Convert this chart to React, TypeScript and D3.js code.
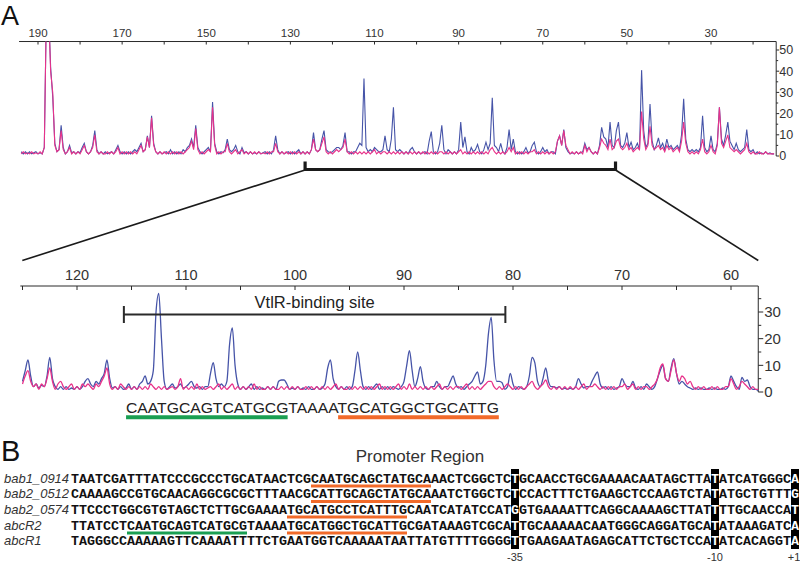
import React from 'react';
import * as d3 from 'd3';

// ---------- Panel A: overview trace (position 194 -> 15, step 0.5) ----------
const overviewStart = 194;
const overviewStep = 0.5;
const overviewBlue = [
  2,1,2,1,2,1,1.5,2,1,1.5,1,4,70,70,42,28,6,2,3,14.5,
  4,1,2,5,1.5,2,1,2,1.5,4,6,2,1,2,5,12,3,1,2,1,
  2,1,1.5,2,1,3,5,2,1,2,1,2,1,2,3,2,4,6,2,3,
  9.5,4,19,6,2,1,2,1,1.5,2,1,3,1,2,1,2,1,3,2,4,
  5,8,4,14.5,4,2,1,2,3,4,2,25.5,6,2,1,2,1.5,3,8,3,
  2,3,5,2,1,4,1.5,2,1,2,1,1.5,1,2,1,1.5,2,1,2,1,
  3,9.5,3,1,2,1,1.5,2,1,2,1,2,3,1,2,1,2,1,3,11,
  3,2,3,8,12,3,2,1.5,2,3,4,4,3,5,11,2,2,1,2,2,
  4,6,5,36.5,4,2,3,2,4,3,2,2,3,9.5,3,2,8,23,3,2,
  3,2,1,2,1,3,4,2,1,2,1,1.5,2,1,7,11.5,2,1,2,6,
  14.5,3,1,3,2,1,2,1,3,16,4,9,2,1,4,2,3,5.5,2,1,
  3,6.5,3,6,27.5,5,4,2,6,2,1,4,12.5,3,8,2,1,2,1,2,
  4,1.5,2,5,6.5,2,1,2,4,2,3,1,2,2,1,7,9.5,5,12.5,4,
  2,1,1.5,1,2,1,1.5,2,6,3,4,2,1,2,1,5,13.5,9,8,4,
  16,5,4,12,16,5,4,6,11,4,6.5,3,4,6,3,40.5,12,4,6,24.5,
  7,3,5,8.5,4,6,3,8,4,5,3,4,5,3,10,27,8,3,2,3,
  2,3,2,4,19,4,2,3,9.5,3,2,6,23,8,5,10,16,7,5,3,
  6,3,2,3,4,12.5,3,2,3,1,2,1,1.5,1,2,1,1.5,1,1,
];
const overviewPink = [
  1,2,1,1.5,1,2,1,1.5,1,2,1,4,70,70,40,30,5,2,3,12,
  3,1,2,4,1,2,1,2,1,3,5,2,1,2,4,10,2,1,2,1,
  1,2,1,2,1,2,4,1,2,1,2,1,2,1,2,1,3,5,2,3,
  9,4,18,5,2,1,2,1,2,1,2,1,2,1,2,1,2,1,2,3,
  4,7,3,13,3,1,2,1,2,3,2,23,5,1,2,1,2,2,6,2,
  1,2,3,1,2,3,1,2,1,2,1,2,1,2,1,1.5,1,2,1,2,
  2,6,2,1,2,1,2,1,2,1,2,1,2,1,2,1,2,1,3,8,
  3,2,3,6,9,2,1,2,1,2,3,2,3,4,8,2,1,2,1,2,
  1,2,1,2,1,2,1,2,3,1,2,1,2,2,1,2,1,2,1,2,
  1,2,1,2,1,2,1,2,1,2,1,2,1,2,1,2,1,2,1,2,
  2,1,2,1,2,1,2,1,2,3,1,2,1,2,1,2,1,2,1,2,
  1,2,1,3,4,2,1,2,1,2,1,2,4,2,4,1,2,1,2,1,
  2,1,2,2,3,1,2,1,2,1,2,1,2,1,2,7,9.5,5,12,5,
  3,1,2,1,2,1,2,1,5,2,4,2,1,2,1,4,8,6,5,3,
  8,3,4,7,8,4,3,4,6,3,4,2,3,4,3,21,8,3,5,14,
  5,3,4,5,3,4,2,5,3,4,2,3,4,2,7,16,6,2,1,2,
  1,2,1,3,8,2,1,2,5,2,1,5,23,6,4,7,10,4,3,2,
  3,2,1,2,3,6,2,1,2,1,1,2,1,1,2,1,1,1,1,
];

// ---------- Panel A: zoomed trace (position 125 -> 57.5, step 0.25) ----------
const zoomStart = 125;
const zoomStep = 0.25;
const zoomBlue = [
  4,8,12,6,2,3,1.5,2.5,2,6,13,5,2,1,2,1,2,1,1.5,1,
  2,1,2,4,5,3,2,4,3,5,7,12,5,1.5,2,1,2,1,1.5,3,
  1,2,1,3,4,6,3,4,8,30,37,20,4,1,2,3,1.5,2,3,1.5,
  2,3,4,2,1.5,2,1,2,2,7,11,5,2,3,2,4,18,24,10,3,
  1,2,1,2,3,1,2,1,1.5,1,2,1,2,1,4,4.5,4.5,3,1,1.5,
  1,2,1,1.5,1,2,1,1,2,1,1.5,3,9,12,5,2,1,2,1,2,
  1,2,8,15,8,2,1,2,1,2,3,1,2,1,2,1,2,1.5,1,2,
  4,10,15.5,8,2,5,9.5,4,1.5,1,2,2,4,2,1,2,2,4,6,3,
  1.5,2,1,2,3,4,6,7.5,3,4,10,22,28,12,4,4,3.5,1,2,7,
  3,1,2,1.5,1,2,6,13,11,4,2,5,9,4,2,2,1.5,2,1,1.5,
  1,1.5,1,2,5,3,1.5,2,2,4,6,7.5,3,1.5,2,1,2,1,1.5,2,
  5,3,2,2,4,1.5,1,2,1,3,2,1,2,5,8,10,5,4,9,12.5,
  7,3,4,3,2,1.5,1,1.5,1,1.5,1,1,1.5,1,1.5,1,1,1.5,1,2,
  6,4,2,1,5.5,4,4.5,2,1,1,0.5,
];
const zoomPink = [
  3,6,8,4,2,3,1,3,2,5,9,4,1,3,4,2,1,2,3,1,
  2,1,3,2,3,2,1,3,2,4,6,9,3,1,2,1,3,2,1,2,
  1,2,1,2,1,2,1,3,2,1,2,1,2,1,1.5,2,1,2,5,1,
  2,1,2,1,3,1,2,1,1.5,2,1,2,3,1,2,1,2,3,1,2,
  1,2,1,2,1,3,1,2,1,1,2,1,2,1,1,2,1,2,1,2,
  1,2,1,1,2,1,2,1,2,1,2,1,2,1,2,3,1,2,1,1,
  2,1,2,1,2,1,2,1,2,1,2,3,1,2,1,2,1,2,3,1,
  2,1,3,1,2,1,2,1,2,1,2,1,2,3,1,2,1,2,1,2,
  2,1,2,3,1,2,1,2,1,2,3,4,4,2,1,2,1,2,3,2,
  1,2,1,2,1,2,3,4,2,1,2,3,4.5,2,1,2,1,2,1,2,
  1,2,1,2,1,2,3,1,2,2,3,2,1,2,1,2,1,2,1,2,
  2,3,1,2,3,1,2,1,2,2,1,2,3,5,9,10.5,5,4,8,12,
  7,4,6,5,3,4,2,1,2,1,2,1,1,2,1,2,1,1,2,2,
  5,3,1,2,4,3,2,1,2,1,1,
];

// axes
const overviewXTicks = [190,180,170,160,150,140,130,120,110,100,90,80,70,60,50,40,30,20];
const overviewXLabels = [190,170,150,130,110,90,70,50,30];
const overviewYTicks = [0,5,10,15,20,25,30,35,40,45,50];
const overviewYLabels = [0,10,20,30,40,50];
const zoomXTicks = [125,120,115,110,105,100,95,90,85,80,75,70,65,60];
const zoomXLabels = [120,110,100,90,80,70,60];
const zoomYTicks = [0,5,10,15,20,25,30,35];
const zoomYLabels = [0,10,20,30];

const overviewBracket = [126.5, 52.7];
const bindingSite = [115.7, 80.7];
const bindingSeq = 'CAATGCAGTCATGCGTAAAATGCATGGCTGCATTG';
const bindingSeqSpan = [115.5, 81.3];
const bindingGreen = [0, 15];
const bindingOrange = [20, 35];

// ---------- Panel B ----------
const geneNames = ['bab1_0914', 'bab2_0512', 'bab2_0574', 'abcR2', 'abcR1'];
const promoterSeqs = [
  'TAATCGATTTATCCCGCCCTGCATAACTCGCAATGCAGCTATGCAAACTCGGCTCTGCAACCTGCGAAAACAATAGCTTATATCATGGGCA',
  'CAAAAGCCGTGCAACAGGCGCGCTTTAACGCATTGCAGCTATGCAAATCTGGCTCTCCACTTTCTGAAGCTCCAAGTCTATATGCTGTTTG',
  'TTCCCTGGCGTGTAGCTCTTGCGAAAATGCATGCCTCATTTGCAATCATATCCATGGTGAAAATTCAGGCAAAAGCTTATTTTGCAACCAT',
  'TTATCCTCAATGCAGTCATGCGTAAAATGCATGGCTGCATTGCGATAAAGTCGCATTGCAAAAACAATGGGCAGGATGCATATAAAGATCA',
  'TAGGGCCAAAAAGTTCAAAATTTTCTGAATGGTCAAAAATAATTATGTTTTGGGGTTGAAGAATAGAGCATTCTGCTCCATATCACAGGTA',
];
const orangeSpans: (number[] | null)[] = [[31, 45], [31, 45], [28, 42], [28, 42], null];
const greenSpans: (number[] | null)[] = [null, null, null, [8, 22], null];
const markerCols = [56, 81, 91];
const markerLabels = ['-35', '-10', '+1'];

const BLUE = '#4654a8';
const PINK = '#e8328a';
const GREEN = '#1a9f52';
const ORANGE = '#f26a2a';
const DARK = '#2a2a2a';
const SANS = '"Liberation Sans", Arial, sans-serif';
const MONO = '"Liberation Mono", "Courier New", monospace';
const charW: Record<string, number> = { A: 0.667, C: 0.722, G: 0.778, T: 0.611 };

function segments(s: string) {
  const out: { text: string; hi: boolean }[] = [];
  let prev = 0;
  markerCols.forEach(c => {
    if (c - 1 > prev) out.push({ text: s.slice(prev, c - 1), hi: false });
    out.push({ text: s[c - 1], hi: true });
    prev = c;
  });
  if (prev < s.length) out.push({ text: s.slice(prev), hi: false });
  return out;
}

export default function App() {
  const xTop = d3.scaleLinear().domain([190, 30]).range([38, 711]);
  const yTop = d3.scaleLinear().domain([0, 50]).range([156, 50]);
  const xZoom = d3.scaleLinear().domain([120, 60]).range([77, 731]);
  const yZoom = d3.scaleLinear().domain([0, 30]).range([392, 312]);
  const topX0 = xTop(194.5), topX1 = xTop(14.5), topY = yTop(54);
  const zX0 = xZoom(125.2), zX1 = xZoom(57.5), zY = yZoom(39.75);

  const pts = (arr: number[], start: number, step: number) =>
    arr.map((v, i) => [start - step * i, v] as [number, number]);
  const topLine = d3.line<[number, number]>().x(d => xTop(d[0])).y(d => yTop(d[1]));
  const zLine = d3.line<[number, number]>().x(d => xZoom(d[0])).y(d => yZoom(d[1])).curve(d3.curveMonotoneX);

  const seqX0 = xZoom(bindingSeqSpan[0]);
  const seqX1 = xZoom(bindingSeqSpan[1]);
  const cum = [0];
  for (const ch of bindingSeq) cum.push(cum[cum.length - 1] + charW[ch]);
  const total = cum[cum.length - 1];
  const seqPos = (i: number) => seqX0 + (cum[i] / total) * (seqX1 - seqX0);

  const mono0 = 71, monoW = 8;
  const rowBase = [482.5, 498, 513.5, 529.5, 545];

  return (
    <svg width={800} height={562} style={{ position: 'absolute', left: 0, top: 0, background: '#fff' }}
      fontFamily={SANS}>
      <defs>
        <clipPath id="clipTop"><rect x={0} y={topY} width={800} height={160} /></clipPath>
        <clipPath id="clipZoom"><rect x={0} y={zY} width={800} height={140} /></clipPath>
      </defs>
      <rect width={800} height={562} fill="#fff" />
      <text x={1} y={25} fontSize={27} fill="#111">A</text>

      {/* overview axes */}
      <line x1={topX0} x2={topX1} y1={topY} y2={topY} stroke={DARK} strokeWidth={1} />
      {overviewXTicks.map(t => (
        <line key={t} x1={xTop(t)} x2={xTop(t)} y1={topY} y2={topY + 3} stroke={DARK} />
      ))}
      {overviewXLabels.map(t => (
        <text key={t} x={xTop(t)} y={37} fontSize={11.5} textAnchor="middle" fill="#333">{t}</text>
      ))}
      <line x1={topX1} x2={topX1} y1={topY} y2={yTop(0)} stroke={DARK} />
      {overviewYTicks.map(t => (
        <line key={t} x1={topX1} x2={topX1 + (t % 10 === 0 ? 3 : 2)} y1={yTop(t)} y2={yTop(t)} stroke={DARK} />
      ))}
      {overviewYLabels.map(t => (
        <text key={t} x={topX1 + 3} y={yTop(t)} dy="0.35em" fontSize={12.5} fill="#333">{t}</text>
      ))}
      <g clipPath="url(#clipTop)" fill="none" strokeWidth={1.1}>
        <path d={topLine(pts(overviewBlue, overviewStart, overviewStep)) || ''} stroke={BLUE} />
        <path d={topLine(pts(overviewPink, overviewStart, overviewStep)) || ''} stroke={PINK} />
      </g>

      {/* bracket + connectors */}
      <path d={`M${xTop(overviewBracket[0])},161.5V169.5H${xTop(overviewBracket[1])}V161.5`}
        fill="none" stroke="#1a1a1a" strokeWidth={3.2} />
      <line x1={xTop(overviewBracket[0])} y1={170} x2={zX0 + 2} y2={260.5} stroke="#1a1a1a" strokeWidth={1.6} />
      <line x1={xTop(overviewBracket[1])} y1={170} x2={zX1} y2={260.5} stroke="#1a1a1a" strokeWidth={1.6} />

      {/* zoom axes */}
      <line x1={zX0} x2={zX1} y1={zY} y2={zY} stroke={DARK} />
      {zoomXTicks.map(t => (
        <line key={t} x1={xZoom(t)} x2={xZoom(t)} y1={zY} y2={zY + 4} stroke={DARK} />
      ))}
      {zoomXLabels.map(t => (
        <text key={t} x={xZoom(t)} y={280} fontSize={14.5} textAnchor="middle" fill="#333">{t}</text>
      ))}
      <line x1={zX1} x2={zX1} y1={zY} y2={yZoom(0)} stroke={DARK} />
      {zoomYTicks.map(t => (
        <line key={t} x1={zX1} x2={zX1 + (t % 10 === 0 ? 5 : 3)} y1={yZoom(t)} y2={yZoom(t)} stroke={DARK} />
      ))}
      {zoomYLabels.map(t => (
        <text key={t} x={zX1 + 6} y={yZoom(t)} dy="0.36em" fontSize={15} fill="#333">{t}</text>
      ))}
      <g clipPath="url(#clipZoom)" fill="none" strokeWidth={1.3}>
        <path d={zLine(pts(zoomBlue, zoomStart, zoomStep)) || ''} stroke={BLUE} />
        <path d={zLine(pts(zoomPink, zoomStart, zoomStep)) || ''} stroke={PINK} />
      </g>

      {/* VtlR binding site */}
      <path d={`M${xZoom(bindingSite[0])},306V323M${xZoom(bindingSite[0])},314.5H${xZoom(bindingSite[1])}M${xZoom(bindingSite[1])},306V323`}
        fill="none" stroke={DARK} strokeWidth={2} />
      <text x={(xZoom(bindingSite[0]) + xZoom(bindingSite[1])) / 2} y={308} fontSize={16.5}
        textAnchor="middle" fill="#222">VtlR-binding site</text>
      <text x={seqX0} y={413.3} fontSize={15.4} fill="#222" textLength={seqX1 - seqX0}
        lengthAdjust="spacingAndGlyphs">{bindingSeq}</text>
      <line x1={seqPos(bindingGreen[0])} x2={seqPos(bindingGreen[1])} y1={417.2} y2={417.2} stroke={GREEN} strokeWidth={4} />
      <line x1={seqPos(bindingOrange[0])} x2={seqPos(bindingOrange[1])} y1={417.2} y2={417.2} stroke={ORANGE} strokeWidth={4} />

      {/* Panel B */}
      <text x={1} y={461} fontSize={29} fill="#111">B</text>
      <text x={420} y={462} fontSize={17} textAnchor="middle" fill="#333">Promoter Region</text>
      {geneNames.map((g, r) => (
        <text key={g} x={4} y={rowBase[r]} fontSize={13} fontStyle="italic" fill="#333">{g}</text>
      ))}
      {markerCols.map(c => (
        <rect key={'r' + c} x={mono0 + (c - 1) * monoW} y={469} width={monoW} height={80} fill="#000" />
      ))}
      {promoterSeqs.map((s, r) => (
        <text key={r} x={mono0} y={rowBase[r]} fontSize={13.333} fontFamily={MONO} fontWeight="bold"
          fill="#111" textLength={s.length * monoW} lengthAdjust="spacingAndGlyphs">
          {segments(s).map((seg, k) => (
            <tspan key={k} fill={seg.hi ? '#fff' : '#111'}>{seg.text}</tspan>
          ))}
        </text>
      ))}
      {orangeSpans.map((sp, r) => sp && (
        <line key={'o' + r} x1={mono0 + (sp[0] - 1) * monoW} x2={mono0 + sp[1] * monoW}
          y1={rowBase[r] + 3.5} y2={rowBase[r] + 3.5} stroke={ORANGE} strokeWidth={3} />
      ))}
      {greenSpans.map((sp, r) => sp && (
        <line key={'g' + r} x1={mono0 + (sp[0] - 1) * monoW} x2={mono0 + sp[1] * monoW}
          y1={rowBase[r] + 3.5} y2={rowBase[r] + 3.5} stroke={GREEN} strokeWidth={3} />
      ))}
      {markerCols.map((c, k) => (
        <text key={'m' + c} x={Math.min(mono0 + (c - 1) * monoW + monoW / 2, 794)} y={561} fontSize={11}
          textAnchor="middle" fill="#333">{markerLabels[k]}</text>
      ))}
    </svg>
  );
}
